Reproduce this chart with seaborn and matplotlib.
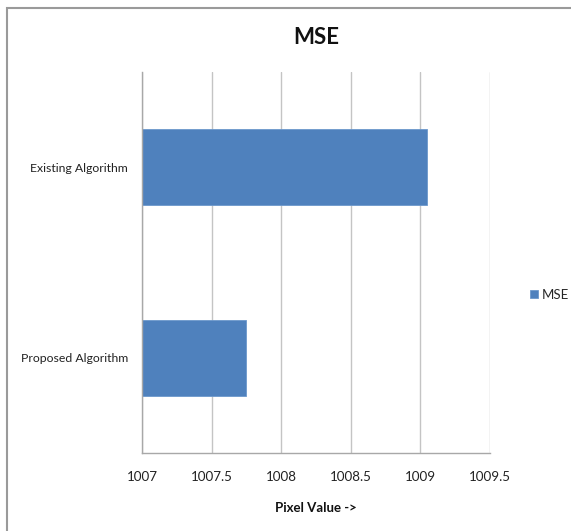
import matplotlib
matplotlib.use("Agg")
import matplotlib.pyplot as plt
import seaborn as sns
import pandas as pd
from matplotlib.patches import Rectangle

categories = ["Existing Algorithm", "Proposed Algorithm"]
mse_values = [1009.05, 1007.75]
x_ticks = [1007, 1007.5, 1008, 1008.5, 1009, 1009.5]
x_tick_labels = ["1007", "1007.5", "1008", "1008.5", "1009", "1009.5"]

sns.set_style("white")
plt.rcParams["font.family"] = ["Lato", "DejaVu Sans"]

df = pd.DataFrame({"Algorithm": categories, "MSE": mse_values})

fig = plt.figure(figsize=(5.71, 5.31), dpi=100)
ax = fig.add_axes([142 / 571, 1 - 453 / 531, 348 / 571, 381 / 531])

# bars measured from the 1007 baseline
df["offset"] = df["MSE"] - 1007
sns.barplot(data=df, y="Algorithm", x="offset", orient="h", color="#4F81BD",
            saturation=1, width=0.4, left=1007, edgecolor="#6C98CC",
            linewidth=0.6, ax=ax, label="MSE")

ax.set_xlim(1007, 1009.5)
ax.set_ylim(1.5, -0.5)
ax.set_xticks(x_ticks)
ax.set_xticklabels(x_tick_labels, fontsize=9.6, color="#222222")
ax.tick_params(axis="x", length=5, color="#a0a0a0", width=0.8, pad=8, direction="out")
ax.tick_params(axis="y", which="major", length=0, pad=10, labelsize=8.8, labelcolor="#222222")
ax.set_yticks([-0.5, 0.5, 1.5], minor=True)
ax.tick_params(axis="y", which="minor", length=5, color="#a0a0a0", width=0.8)
ax.grid(axis="x", color="#c4c4c4", linewidth=1)
ax.set_axisbelow(True)
for side in ["top", "right"]:
    ax.spines[side].set_visible(False)
for side in ["left", "bottom"]:
    ax.spines[side].set_color("#a8a8a8")
    ax.spines[side].set_linewidth(1)

ax.set_ylabel("")
ax.set_xlabel("Pixel Value ->", fontsize=9.5, fontweight="bold", labelpad=14, color="#111111")
ax.set_title("MSE", fontsize=16, fontweight="bold", pad=20, color="#111111")

leg = ax.legend(loc="center left", bbox_to_anchor=(1.1, 0.415), frameon=False,
                fontsize=9.5, handlelength=0.6, handleheight=0.6, handletextpad=0.3,
                borderaxespad=0)

# chart frame
fig.patches.append(Rectangle((7 / 571, -0.1), 1.2, 1 - 8 / 531 + 0.1,
                             transform=fig.transFigure, fill=False,
                             edgecolor="#9a9a9a", linewidth=1.5))

fig.savefig("out.png", dpi=100, facecolor="white")
